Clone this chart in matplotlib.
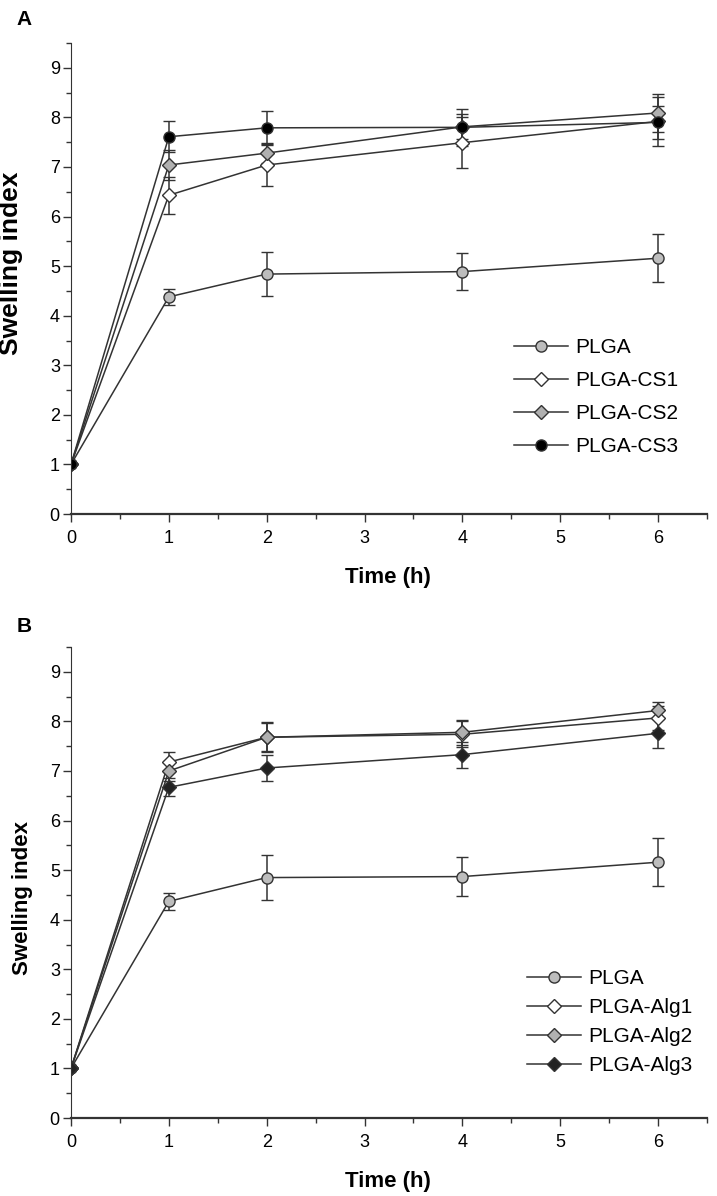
import numpy as np
import matplotlib
matplotlib.use('Agg')
from matplotlib import pyplot as plt
from matplotlib.ticker import MultipleLocator
from matplotlib.lines import Line2D

plt.rcParams['font.family'] = ['Liberation Sans', 'DejaVu Sans']

# time points (h)
time = [0, 1, 2, 4, 6]

# panel A: PLGA and chitosan blends
plga_a = [1.0, 4.38, 4.84, 4.89, 5.16]
plga_a_err = [0, 0.16, 0.44, 0.37, 0.48]
cs1 = [1.0, 6.43, 7.04, 7.49, 7.92]
cs1_err = [0, 0.37, 0.43, 0.51, 0.50]
cs2 = [1.0, 7.04, 7.28, 7.81, 8.09]
cs2_err = [0, 0.30, 0.20, 0.25, 0.39]
cs3 = [1.0, 7.61, 7.79, 7.80, 7.90]
cs3_err = [0, 0.31, 0.34, 0.37, 0.33]

# panel B: PLGA and alginate blends
plga_b = [1.0, 4.37, 4.85, 4.87, 5.16]
plga_b_err = [0, 0.17, 0.45, 0.40, 0.49]
alg1 = [1.0, 7.18, 7.68, 7.74, 8.07]
alg1_err = [0, 0.20, 0.30, 0.26, 0.25]
alg2 = [1.0, 7.00, 7.68, 7.78, 8.22]
alg2_err = [0, 0.20, 0.28, 0.25, 0.17]
alg3 = [1.0, 6.67, 7.06, 7.33, 7.76]
alg3_err = [0, 0.18, 0.27, 0.26, 0.30]

line_col = '#333333'

fig = plt.figure(figsize=(7.17, 11.96), dpi=100)
ax_a = fig.add_axes([0.099, 0.5702, 0.887, 0.3938])
ax_b = fig.add_axes([0.099, 0.0652, 0.887, 0.3938])


def draw_series(ax, y, err, label, marker, face, ms):
    ax.errorbar(time, y, yerr=err, color=line_col, lw=1.1, marker=marker,
                markersize=ms, markerfacecolor=face, markeredgecolor=line_col,
                markeredgewidth=1.0, ecolor=line_col, elinewidth=1.1,
                capsize=4, capthick=1.1)
    # legend handle without the error bar
    return Line2D([], [], color=line_col, lw=1.1, marker=marker, markersize=ms,
                  markerfacecolor=face, markeredgecolor=line_col,
                  markeredgewidth=1.0, label=label)


def style_axes(ax, ylab_size, ylab_x, ylab_y):
    ax.set_xlim(0, 6.5)
    ax.set_ylim(0, 9.5)
    ax.spines['top'].set_visible(False)
    ax.spines['right'].set_visible(False)
    ax.spines['left'].set_color(line_col)
    ax.spines['bottom'].set_color(line_col)
    ax.spines['bottom'].set_linewidth(1.6)
    ax.xaxis.set_major_locator(MultipleLocator(1))
    ax.xaxis.set_minor_locator(MultipleLocator(0.5))
    ax.yaxis.set_major_locator(MultipleLocator(1))
    ax.yaxis.set_minor_locator(MultipleLocator(0.5))
    ax.tick_params(which='major', direction='out', length=6, width=1,
                   color=line_col, labelsize=13)
    ax.tick_params(which='minor', direction='out', length=3.5, width=1,
                   color=line_col)
    ax.tick_params(axis='x', which='major', pad=5.5)
    ax.tick_params(axis='y', which='major', pad=2)
    ax.set_xlabel('Time (h)', fontsize=16, fontweight='bold')
    ax.set_ylabel('Swelling index', fontsize=ylab_size, fontweight='bold')
    ax.xaxis.set_label_coords(0.499, -0.1125)
    ax.yaxis.set_label_coords(ylab_x, ylab_y)


handles_a = [
    draw_series(ax_a, plga_a, plga_a_err, 'PLGA', 'o', '#bdbdbd', 8),
    draw_series(ax_a, cs1, cs1_err, 'PLGA-CS1', 'D', 'white', 7.5),
    draw_series(ax_a, cs2, cs2_err, 'PLGA-CS2', 'D', '#b0b0b0', 7.5),
    draw_series(ax_a, cs3, cs3_err, 'PLGA-CS3', 'o', 'black', 8),
]
style_axes(ax_a, 19, -0.0755, 0.533)
ax_a.legend(handles=handles_a, loc='upper left', bbox_to_anchor=(0.68, 0.395),
            frameon=False, fontsize=15, handlelength=2.6, handletextpad=0.34,
            labelspacing=0.67, borderpad=0)

handles_b = [
    draw_series(ax_b, plga_b, plga_b_err, 'PLGA', 'o', '#bdbdbd', 8),
    draw_series(ax_b, alg1, alg1_err, 'PLGA-Alg1', 'D', 'white', 7.5),
    draw_series(ax_b, alg2, alg2_err, 'PLGA-Alg2', 'D', '#b0b0b0', 7.5),
    draw_series(ax_b, alg3, alg3_err, 'PLGA-Alg3', 'D', '#222222', 7.5),
]
style_axes(ax_b, 16, -0.06, 0.467)
ax_b.legend(handles=handles_b, loc='upper left', bbox_to_anchor=(0.70, 0.3386),
            frameon=False, fontsize=15, handlelength=2.6, handletextpad=0.34,
            labelspacing=0.48, borderpad=0)

fig.text(0.023, 0.992, 'A', fontsize=15, fontweight='bold', va='top')
fig.text(0.023, 0.484, 'B', fontsize=15, fontweight='bold', va='top')

fig.savefig('out.png', dpi=100)
